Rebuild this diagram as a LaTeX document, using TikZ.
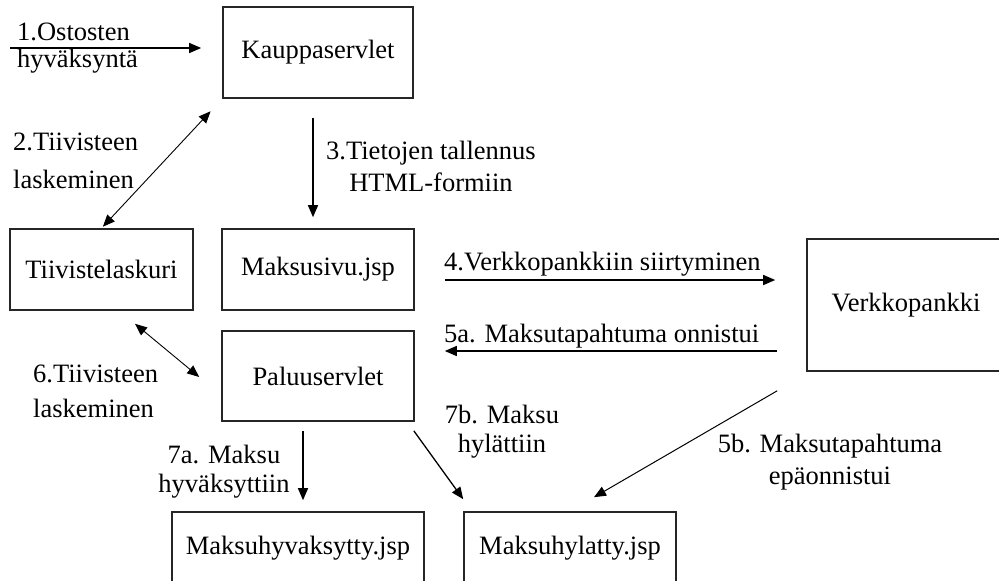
\documentclass[tikz,border=0pt]{standalone}
\usepackage{fontspec}
\setmainfont{Liberation Serif}
\usetikzlibrary{arrows.meta}

\tikzset{
  box/.style={draw=black!85, line width=1.6pt, inner sep=0pt,
    font=\fontsize{26.5}{32}\selectfont},
  lbl/.style={inner sep=0pt, font=\fontsize{26.5}{32}\selectfont},
  arr/.style={-{Triangle[length=12pt,width=10pt]}, line width=1.3pt},
  darr/.style={{Triangle[length=12pt,width=10pt]}-{Triangle[length=12pt,width=10pt]},
    line width=0.9pt},
}

\begin{document}
\begin{tikzpicture}[x=1pt,y=-1pt]
  \useasboundingbox (0,0) rectangle (999,581);
  % boxes
  \node[box, minimum width=190pt, minimum height=91pt] (kauppa) at (318,52.5) {Kauppaservlet};
  \node[box, minimum width=183pt, minimum height=81pt] (tiiv) at (101.5,269.5) {Tiivistelaskuri};
  \node[box, minimum width=192pt, minimum height=81pt] (maksusivu) at (318,269.5) {Maksusivu.jsp};
  \node[box, minimum width=192pt, minimum height=90pt] (paluu) at (318,376) {Paluuservlet};
  \node[box, minimum width=198pt, minimum height=132pt] (verkko) at (906,305) {Verkkopankki};
  \node[box, minimum width=252pt, minimum height=72pt] (hyv) at (298,548) {Maksuhyvaksytty.jsp};
  \node[box, minimum width=212pt, minimum height=72pt] (hyl) at (570,548) {Maksuhylatty.jsp};
  % rows of the horizontal arrows
  \coordinate (start1) at (10,48);
  \coordinate (row4) at (0,280);
  \coordinate (row5) at (0,351);
  % arrows
  \draw[arr, shorten >=21pt] (start1) -- (start1 -| kauppa.west);
  \draw[darr, shorten <=2pt, shorten >=17pt] (tiiv.north) -- (kauppa.south west);
  \draw[arr, shorten <=19pt, shorten >=11pt] ([xshift=-5pt]kauppa.south) -- ([xshift=-5pt]maksusivu.north);
  \draw[arr, shorten <=30pt, shorten >=31pt] (maksusivu.east |- row4) -- (verkko.west |- row4);
  \draw[arr, shorten <=29pt, shorten >=30pt] (verkko.west |- row5) -- (maksusivu.east |- row5);
  \draw[darr] ([shift={(33.5,13)}]tiiv.south) -- ([shift={(-22,1)}]paluu.west);
  \draw[arr, shorten <=9pt, shorten >=11pt] ([xshift=-15pt]paluu.south) -- ([xshift=-15pt]paluu.south |- hyv.north);
  \draw[arr] ([shift={(-1,9)}]paluu.south east) -- ([shift={(0,-12)}]hyl.north west);
  \draw[arr, line width=1pt] ([shift={(-29,19)}]verkko.south west) -- ([shift={(24,-14)}]hyl.north);
  % labels (base = last line)
  \node[lbl, anchor=base west, align=left] (l1) at (17,67) {1.Ostosten\\[-5pt]hyväksyntä};
  \node[lbl, anchor=base west, align=left] (l2) at (13,188) {2.Tiivisteen\\[6pt]laskeminen};
  \node[lbl, anchor=base, align=center] (l3) at (431,191) {3.Tietojen tallennus\\HTML-formiin};
  \node[lbl, anchor=base west] (l4) at (444,270) {4.Verkkopankkiin siirtyminen};
  \node[lbl, anchor=base west] (l5a) at (444,342) {5a. Maksutapahtuma onnistui};
  \node[lbl, anchor=base west, align=left] (l6) at (33,417) {6.Tiivisteen\\[3pt]laskeminen};
  \node[lbl, anchor=base, align=center] (l7a) at (224,492) {7a. Maksu\\[-3pt]hyväksyttiin};
  \node[lbl, anchor=base, align=center] (l7b) at (502,452) {7b. Maksu\\[-3pt]hylättiin};
  \node[lbl, anchor=base, align=center] (l5b) at (830,484) {5b. Maksutapahtuma\\epäonnistui};
\end{tikzpicture}
\end{document}
